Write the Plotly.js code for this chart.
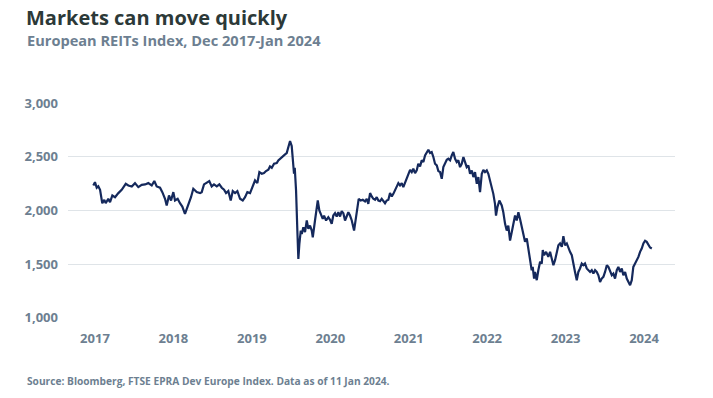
<!DOCTYPE html>
<html>
<head>
<meta charset="utf-8">
<script src="https://cdn.plot.ly/plotly-3.0.1.min.js"></script>
<style>
html,body{margin:0;padding:0;background:#fff;}
#chart{width:713px;height:398px;}
</style>
</head>
<body>
<div id="chart"></div>
<script>
// Time in decimal years (Dec 2017 - Jan 2024)
const years = [
2017.990,2018.008,2018.027,2018.044,2018.063,2018.087,2018.109,2018.124,2018.152,2018.171,
2018.196,2018.225,2018.261,2018.297,2018.341,2018.369,2018.406,2018.441,2018.477,2018.514,
2018.550,2018.585,2018.622,2018.650,2018.676,2018.712,2018.737,2018.766,2018.784,2018.809,
2018.831,2018.856,2018.874,2018.903,2018.928,2018.953,2018.982,2019.018,2019.047,2019.072,
2019.109,2019.145,2019.163,2019.188,2019.217,2019.245,2019.271,2019.296,2019.326,2019.354,
2019.380,2019.405,2019.426,2019.451,2019.477,2019.499,2019.524,2019.549,2019.578,2019.607,
2019.632,2019.657,2019.686,2019.715,2019.740,2019.765,2019.787,2019.813,2019.837,2019.859,
2019.884,2019.902,2019.921,2019.946,2019.975,2019.992,2020.011,2020.029,2020.046,2020.065,
2020.083,2020.100,2020.119,2020.137,2020.148,2020.162,2020.170,2020.184,2020.198,2020.209,
2020.220,2020.235,2020.246,2020.263,2020.281,2020.300,2020.317,2020.335,2020.354,2020.365,
2020.389,2020.408,2020.419,2020.436,2020.451,2020.473,2020.487,2020.509,2020.533,2020.552,
2020.570,2020.587,2020.606,2020.624,2020.642,2020.660,2020.678,2020.696,2020.714,2020.733,
2020.750,2020.768,2020.787,2020.812,2020.833,2020.847,2020.862,2020.884,2020.906,2020.931,
2020.949,2020.966,2020.985,2021.003,2021.020,2021.039,2021.057,2021.075,2021.093,2021.111,
2021.129,2021.147,2021.165,2021.183,2021.201,2021.220,2021.237,2021.255,2021.274,2021.291,
2021.309,2021.328,2021.345,2021.364,2021.382,2021.399,2021.418,2021.436,2021.453,2021.472,
2021.490,2021.507,2021.526,2021.544,2021.562,2021.580,2021.598,2021.616,2021.634,2021.652,
2021.670,2021.688,2021.707,2021.724,2021.742,2021.761,2021.778,2021.797,2021.815,2021.832,
2021.851,2021.869,2021.886,2021.905,2021.923,2021.940,2021.959,2021.977,2021.995,2022.013,
2022.031,2022.049,2022.067,2022.086,2022.103,2022.121,2022.140,2022.157,2022.175,2022.194,
2022.211,2022.229,2022.248,2022.265,2022.283,2022.302,2022.319,2022.337,2022.348,2022.363,
2022.384,2022.410,2022.427,2022.446,2022.464,2022.481,2022.500,2022.518,2022.536,2022.554,
2022.572,2022.590,2022.608,2022.627,2022.644,2022.662,2022.681,2022.698,2022.716,2022.734,
2022.745,2022.760,2022.770,2022.789,2022.806,2022.825,2022.843,2022.854,2022.868,2022.890,
2022.914,2022.933,2022.951,2022.969,2022.987,2023.006,2023.023,2023.041,2023.060,2023.077,
2023.095,2023.114,2023.131,2023.149,2023.168,2023.185,2023.203,2023.222,2023.239,2023.257,
2023.276,2023.293,2023.311,2023.330,2023.347,2023.366,2023.384,2023.402,2023.420,2023.438,
2023.456,2023.474,2023.492,2023.510,2023.528,2023.547,2023.564,2023.582,2023.601,2023.618,
2023.636,2023.655,2023.672,2023.691,2023.709,2023.726,2023.745,2023.763,2023.780,2023.799,
2023.817,2023.834,2023.853,2023.871,2023.889,2023.907,2023.925,2023.943,2023.961,2023.979,
2023.997,2024.015,2024.034
];

// European REITs index level
const indexValues = [
2233,2264,2212,2226,2193,2068,2099,2068,2109,2078,
2140,2124,2162,2193,2249,2233,2224,2255,2218,2239,
2243,2255,2233,2274,2224,2212,2171,2109,2047,2140,
2093,2171,2093,2109,2068,2037,1969,2047,2124,2202,
2171,2162,2171,2243,2255,2274,2224,2243,2224,2243,
2212,2193,2162,2181,2093,2181,2162,2181,2109,2093,
2124,2171,2162,2233,2280,2255,2357,2342,2348,2367,
2379,2410,2398,2436,2442,2467,2482,2504,2513,2523,
2535,2585,2647,2600,2436,2342,2398,2187,1813,1549,
1690,1813,1782,1844,1798,1907,1829,1860,1813,1751,
1907,2000,2093,2000,1969,1922,1953,1907,1938,1913,
1876,1953,1975,1944,1984,1944,1994,1975,1907,1953,
1984,1953,1907,1813,1938,2062,2109,2093,2100,2084,
2109,2062,2162,2131,2109,2100,2124,2093,2087,2109,
2087,2068,2093,2100,2162,2131,2155,2187,2224,2255,
2233,2255,2218,2264,2305,2342,2379,2358,2389,2348,
2373,2435,2410,2467,2451,2513,2535,2566,2535,2544,
2498,2435,2420,2367,2358,2295,2404,2442,2473,2482,
2467,2513,2544,2482,2451,2467,2404,2435,2498,2451,
2404,2420,2342,2373,2311,2358,2249,2311,2171,2342,
2379,2358,2373,2342,2280,2218,2155,2062,1953,2031,
2093,2047,1984,1876,1813,1860,1720,1798,1876,1953,
1907,1984,1920,1848,1786,1708,1739,1646,1537,1444,
1475,1366,1428,1351,1444,1522,1506,1631,1584,1615,
1568,1615,1553,1491,1537,1600,1677,1693,1662,1761,
1677,1693,1646,1615,1584,1522,1428,1351,1428,1460,
1506,1491,1506,1460,1444,1428,1444,1413,1444,1428,
1397,1335,1366,1382,1428,1491,1475,1444,1397,1413,
1366,1444,1475,1428,1460,1397,1428,1366,1335,1304,
1351,1475,1506,1537,1568,1615,1646,1693,1718,1708,
1677,1655,1646
];

// Axis tick labels and their positions
const xTickLabels = ['2017','2018','2019','2020','2021','2022','2023','2024'];
const xTickPos = [2018.008,2018.857,2019.706,2020.555,2021.403,2022.252,2023.101,2023.950];
const yTickVals = [1000,1500,2000,2500,3000];
const yTickLabels = ['1,000','1,500','2,000','2,500','3,000'];

const slate = '#6d7f91';
const FONT = '"Open Sans", "DejaVu Sans", sans-serif';

const trace = {
  x: years,
  y: indexValues,
  type: 'scatter',
  mode: 'lines',
  line: {color: '#15295c', width: 2.2},
  hoverinfo: 'skip'
};

const layout = {
  width: 713,
  height: 398,
  paper_bgcolor: '#ffffff',
  plot_bgcolor: '#ffffff',
  margin: {l: 68, r: 38, t: 103, b: 80, pad: 0},
  showlegend: false,
  title: {
    text: '<b>Markets can move quickly</b>',
    font: {family: FONT, size: 20, color: '#2c3938'},
    x: 26/713, xanchor: 'left', xref: 'container',
    y: 1 - 18/398, yanchor: 'middle', yref: 'container'
  },
  xaxis: {
    type: 'linear',
    range: [2017.716, 2024.285],
    tickmode: 'array',
    tickvals: xTickPos,
    ticktext: xTickLabels,
    showgrid: false,
    zeroline: false,
    showline: false,
    ticks: '',
    ticklen: 0,
    ticklabelstandoff: 11,
    tickfont: {family: FONT, size: 13, color: slate, weight: 'bold'},
    title: {text: ''},
    fixedrange: true
  },
  yaxis: {
    range: [999, 3001],
    tickmode: 'array',
    tickvals: yTickVals,
    ticktext: yTickLabels,
    showgrid: true,
    gridcolor: '#dfe4e8',
    gridwidth: 1,
    zeroline: false,
    showline: false,
    ticks: '',
    ticklabelstandoff: 9,
    tickfont: {family: FONT, size: 13, color: slate, weight: 'bold'},
    title: {text: ''},
    fixedrange: true
  },
  annotations: [
    {
      text: '<b>European REITs Index, Dec 2017-Jan 2024</b>',
      xref: 'paper', yref: 'paper',
      x: (25-68)/607, y: (317.7-40)/214.4,
      xanchor: 'left', yanchor: 'middle',
      showarrow: false,
      font: {family: FONT, size: 14.6, color: slate}
    },
    {
      text: '<b>Source: Bloomberg, FTSE EPRA Dev Europe Index. Data as of 11 Jan 2024.</b>',
      xref: 'paper', yref: 'paper',
      x: (25-68)/607, y: (317.7-381)/214.4,
      xanchor: 'left', yanchor: 'middle',
      showarrow: false,
      font: {family: FONT, size: 10.2, color: slate}
    }
  ]
};

Plotly.newPlot('chart', [trace], layout, {displayModeBar: false, staticPlot: true});
</script>
</body>
</html>
